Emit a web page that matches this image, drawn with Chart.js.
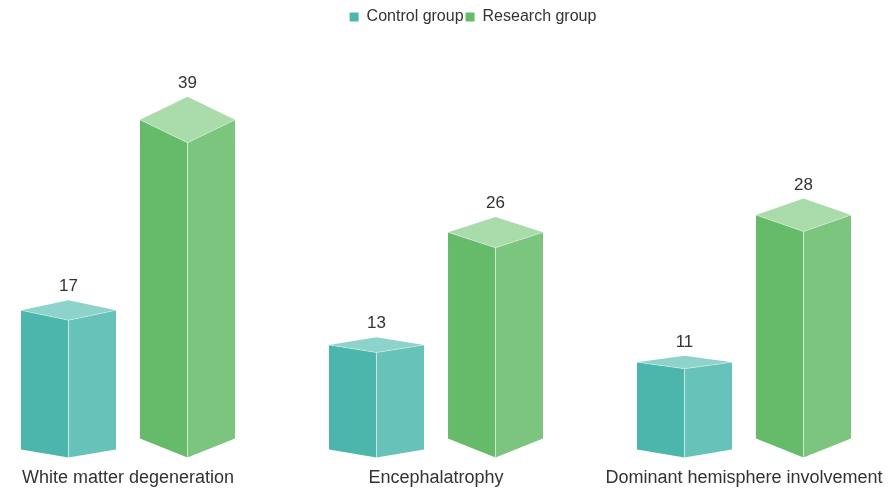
<!DOCTYPE html>
<html>
<head>
<meta charset="utf-8">
<title>Chart</title>
<script src="https://cdn.jsdelivr.net/npm/chart.js@4.4.1/dist/chart.umd.min.js"></script>
<style>
  html, body { margin: 0; padding: 0; background: #fff; overflow: hidden; }
  #wrap { position: absolute; left: -26px; top: 0; width: 924px; height: 503px; }
</style>
</head>
<body>
<div id="wrap"><canvas id="barChart" width="924" height="503"></canvas></div>
<script>
const categories = ["White matter degeneration", "Encephalatrophy", "Dominant hemisphere involvement"];
const seriesNames = ["Control group", "Research group"];
const controlValues = [17, 13, 11];
const researchValues = [39, 26, 28];

// colours of the prism faces: left, right, top
const faceColors = [
  { left: "#4db6ac", right: "#67c2b9", top: "#8dd3cb" },
  { left: "#66bb6a", right: "#7cc57f", top: "#a9dcaa" }
];
const bottomDepth = [8, 19];

Chart.defaults.font.family = "'Liberation Sans', Arial, sans-serif";
Chart.defaults.color = "#333";

function poly(ctx, pts, fill) {
  ctx.beginPath();
  ctx.moveTo(pts[0][0], pts[0][1]);
  for (let k = 1; k < pts.length; k++) ctx.lineTo(pts[k][0], pts[k][1]);
  ctx.closePath();
  ctx.fillStyle = fill;
  ctx.fill();
}

// draws each bar as a 3d box, from the bar element geometry
const box3d = {
  id: "box3d",
  beforeDatasetDraw() { return false; },
  afterDatasetsDraw(chart) {
    const ctx = chart.ctx;
    const base = chart.scales.y.getPixelForValue(0);
    ctx.save();
    chart.data.datasets.forEach((ds, di) => {
      const meta = chart.getDatasetMeta(di);
      const col = faceColors[di];
      const db = bottomDepth[di];
      meta.data.forEach((bar, i) => {
        const c = bar.x;
        const l = c - bar.width / 2;
        const r = c + bar.width / 2;
        const top = bar.y;
        const dt = (base - top) * 0.068;

        poly(ctx, [[l, top], [c, top + dt], [c, base], [l, base - db]], col.left);
        poly(ctx, [[c, top + dt], [r, top], [r, base - db], [c, base]], col.right);
        poly(ctx, [[l, top], [c, top - dt], [r, top], [c, top + dt]], col.top);

        ctx.lineWidth = 1;
        ctx.strokeStyle = "rgba(255,255,255,0.55)";
        ctx.beginPath();
        ctx.moveTo(c, top + dt);
        ctx.lineTo(c, base);
        ctx.stroke();
        ctx.strokeStyle = "rgba(255,255,255,0.35)";
        ctx.beginPath();
        ctx.moveTo(l, top);
        ctx.lineTo(c, top + dt);
        ctx.lineTo(r, top);
        ctx.stroke();

        ctx.fillStyle = "#333";
        ctx.font = "17px 'Liberation Sans', Arial, sans-serif";
        ctx.textAlign = "center";
        ctx.textBaseline = "alphabetic";
        ctx.fillText(ds.data[i], c, top - dt - 9);
      });
    });
    ctx.restore();
  }
};

const legendShift = {
  id: "legendShift",
  afterLayout(chart) {
    chart.legend.left += 37;
    chart.legend.right += 37;
  }
};

const ctx = document.querySelector("#barChart").getContext("2d");
const barChart = new Chart(ctx, {
  type: "bar",
  data: {
    labels: categories,
    datasets: [
      { label: seriesNames[0], data: controlValues, backgroundColor: faceColors[0].left },
      { label: seriesNames[1], data: researchValues, backgroundColor: faceColors[1].left }
    ]
  },
  options: {
    responsive: false,
    animation: false,
    devicePixelRatio: 1,
    categoryPercentage: 0.773,
    barPercentage: 0.798,
    layout: { padding: { top: 7, bottom: 4, left: 0, right: 0 } },
    plugins: {
      legend: {
        position: "top",
        labels: {
          boxWidth: 9,
          boxHeight: 9,
          padding: 2,
          color: "#333",
          font: { size: 16 }
        }
      },
      tooltip: { enabled: false }
    },
    scales: {
      x: {
        grid: { display: false, drawTicks: false },
        border: { display: false },
        ticks: {
          padding: 10,
          maxRotation: 0,
          autoSkip: false,
          color: "#333",
          font: { size: 18 }
        }
      },
      y: {
        display: false,
        min: 0,
        max: 48.8
      }
    }
  },
  plugins: [box3d, legendShift]
});
</script>
</body>
</html>
